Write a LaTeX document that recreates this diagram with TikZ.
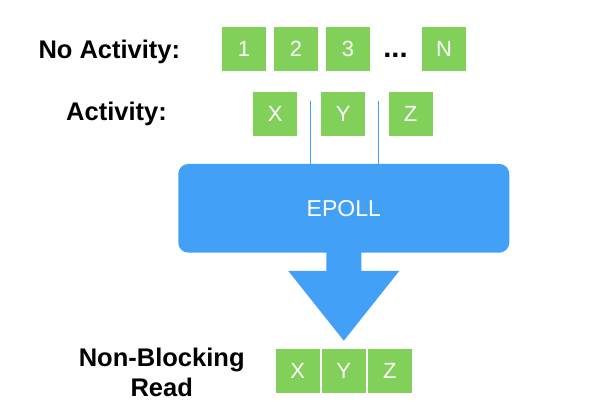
\documentclass[tikz,border=0pt]{standalone}
\usepackage{fontspec}
\setmainfont{Liberation Sans}
\usetikzlibrary{positioning, calc}
\definecolor{cellGreen}{HTML}{80D05A}
\definecolor{pollBlue}{HTML}{42A1F6}
\tikzstyle{cell} = [rectangle, minimum size=44pt, inner sep=0pt, outer sep=0pt, fill=cellGreen, text=white, font=\fontsize{22}{26}\selectfont]
\tikzstyle{caption} = [inner sep=0pt, font=\fontsize{25.5}{30.7}\selectfont\bfseries]
\tikzstyle{pollbox} = [rectangle, rounded corners=10pt, minimum width=331pt, minimum height=88.7pt, outer sep=0pt, fill=pollBlue, text=white, font=\fontsize{23}{27}\selectfont]
\tikzstyle{wire} = [draw=pollBlue, line width=1.5pt]

\begin{document}
\begin{tikzpicture}[x=1pt, y=-1pt]
\useasboundingbox (0,0) rectangle (598,413);

% Sockets
\node (idle) [caption, anchor=base west] at (38.3,58.3) {No Activity:};
\node (one) [cell] at (244,48.7) {1};
\node (two) [cell, right=8pt of one] {2};
\node (three) [cell, right=8pt of two] {3};
\node (dots) [caption, anchor=base, font=\fontsize{29}{30}\selectfont\bfseries] at (395.5,57.5) {...};
\node (enn) [cell] at (444,48.7) {N};

\node (busy) [caption, anchor=base west] at (66,120) {Activity:};
\node (ex) [cell] at (275.3,113.7) {X};
\node (why) [cell, right=24pt of ex] {Y};
\node (zed) [cell, right=23.3pt of why] {Z};

% Epoll
\node (epoll) [pollbox] at (343.8,208.3) {EPOLL};
\coordinate (tapA) at (310.3,100.7);
\coordinate (tapB) at (378.3,100.7);
\draw [wire] (tapA) -- (tapA |- epoll.north);
\draw [wire] (tapB) -- (tapB |- epoll.north);

% Result
\node (rx) [cell] at (297.8,371) {X};
\node (ry) [cell, right=2pt of rx] {Y};
\node (rz) [cell, right=2pt of ry] {Z};
\node (read) [caption, align=center, anchor=base] at (161.7,396.7) {Non-Blocking\\Read};

\fill [pollBlue] ($(epoll.south)+(-17.5,-1)$) -- ($(epoll.south)+(-17.5,18.3)$)
    -- ($(epoll.south)+(-55.5,18.3)$) -- ($(ry.north)+(0,-8.3)$)
    -- ($(epoll.south)+(55.5,18.3)$) -- ($(epoll.south)+(17.5,18.3)$)
    -- ($(epoll.south)+(17.5,-1)$) -- cycle;

\end{tikzpicture}
\end{document}
